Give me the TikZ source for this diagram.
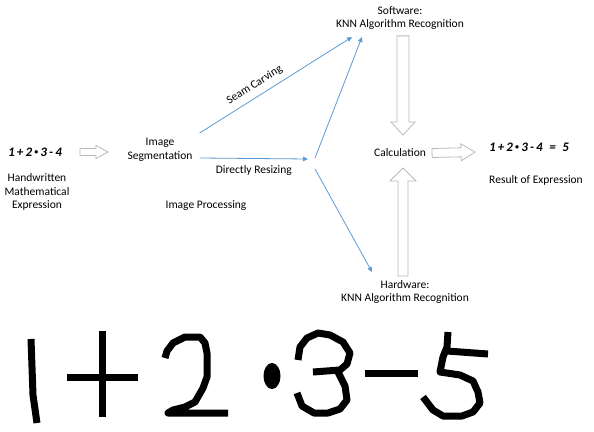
\documentclass[tikz,border=0pt]{standalone}
\usepackage{fontspec}
\setmainfont{Carlito}
\usetikzlibrary{calc,arrows.meta}
\definecolor{lineblue}{RGB}{91,155,213}
\newcommand\mdot{\raisebox{0.25ex}{\scalebox{0.6}{\textbullet}}}

\begin{document}
\begin{tikzpicture}[x=1pt, y=-1pt,
  every node/.style={font=\fontsize{11.5}{13.5}\selectfont, align=center, inner sep=1pt},
  formula/.style={font=\fontsize{13}{15}\selectfont\bfseries\itshape},
  flow/.style={draw=lineblue, line width=0.8pt, -{Triangle[length=5pt, width=4.5pt]}},
  along/.style={shift={(\p1)}, rotate=\n1},
  hollow/.style n args={3}{draw=gray!55, line width=0.8pt, line join=miter,
    to path={let \p1=(\tikztostart), \p2=(\tikztotarget),
      \n1={atan2(\y2-\y1,\x2-\x1)}, \n2={veclen(\x2-\x1,\y2-\y1)} in
      ([along]0,#1) -- ([along]\n2-#3,#1) -- ([along]\n2-#3,#2) -- ([along]\n2,0)
      -- ([along]\n2-#3,-#2) -- ([along]\n2-#3,-#1) -- ([along]0,-#1) -- cycle}},
  ink/.style={line width=7pt, line join=round}]
\useasboundingbox (0,0) rectangle (594,431);

\node[formula] (expr) at (35,152) {1\,+\,2\,\mdot\,3\,-\,4};
\node (exprlabel) at (37,192) {Handwritten\\Mathematical\\Expression};
\node (seg) at (160,150) {Image\\Segmentation};
\node (proc) at (206,206) {Image Processing};
\node (sw) at (400,18) {Software:\\KNN Algorithm Recognition};
\node (calc) at (400,153) {Calculation};
\node (hw) at (405,292) {Hardware:\\KNN Algorithm Recognition};
\node[formula] (res) at (529,147) {1\,+\,2\,\mdot\,3\,-\,4\; =\; 5};
\node (reslabel) at (536,180) {Result of Expression};
\coordinate (resize) at (308,159);
\coordinate (up) at (315,158);
\coordinate (down) at (315,169);

\draw[hollow={3.5}{6.5}{12}] (80,152) to (108,152);
\draw[hollow={6}{12}{13}] (sw.south) ++(3,5) to (403,135);
\draw[hollow={5}{13}{13}] (hw.north) ++(-2,-3) to (403,168);
\draw[hollow={4.5}{8.5}{14}] (calc.east) ++(5,0) to (475,152);

\draw[flow] (seg.east) ++(6,-17) -- (352,37) node[pos=0.4, sloped, above=5pt] {Seam Carving};
\draw[flow] (seg.east) ++(6,8) -- (resize) node[midway, below=6pt] {Directly Resizing};
\draw[flow] (up) -- (362,37);
\draw[flow] (down) -- (372,272);

\draw[ink] (31,339) -- (33,395) -- (37,423);
\draw[ink] (67,377) -- (138,377);
\draw[ink] (102,331) -- (102,417);
\draw[ink] (165,358) -- (167,351) -- (173,343) -- (185,337) -- (200,337) -- (205,343) -- (207,353)
  -- (207,377) -- (203,388) -- (195,402) -- (185,407) -- (173,410) -- (168,413) -- (228,413);
\fill (272,376) ellipse [x radius=8.5, y radius=13];
\draw[ink] (298,360) -- (300,347) -- (307,338) -- (318,333) -- (330,335) -- (343,342) -- (350,353)
  -- (347,364) -- (340,370) -- (313,372);
\draw[ink] (338,372) -- (345,386) -- (347,400) -- (340,409) -- (328,413) -- (314,413) -- (302,406) -- (297,393);
\draw[ink] (365,373) -- (418,373);
\draw[ink] (448,332) -- (447,347) -- (443,357) -- (440,372) -- (460,375) -- (473,381) -- (478,392)
  -- (480,403) -- (473,412) -- (462,416) -- (443,416) -- (433,410) -- (423,397);
\draw[ink] (447,351) -- (488,354);
\end{tikzpicture}
\end{document}
